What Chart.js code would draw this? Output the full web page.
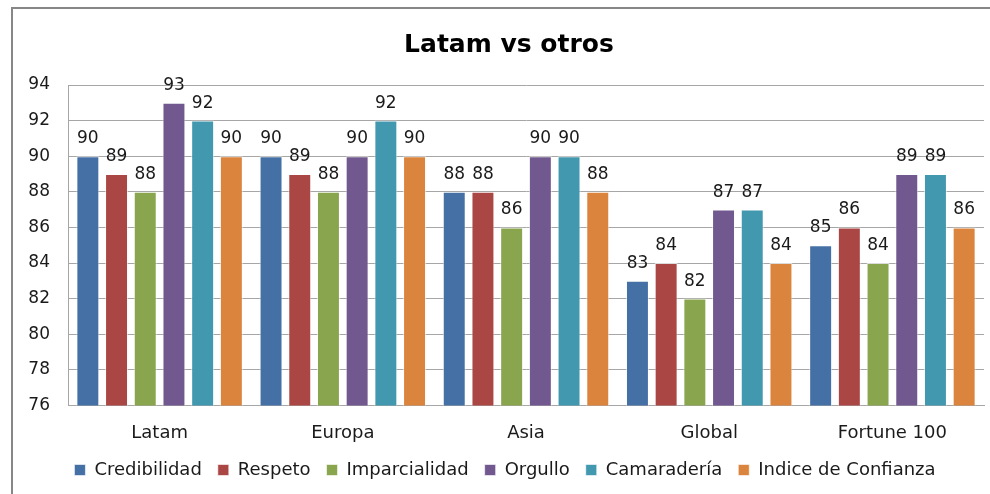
<!DOCTYPE html>
<html>
<head>
<meta charset="utf-8">
<script src="https://cdn.jsdelivr.net/npm/chart.js@4"></script>
<style>
  html, body { margin: 0; padding: 0; overflow: hidden; background: #fff; }
  #frame {
    position: absolute; left: 11px; top: 7px;
    width: 1000px; height: 500px;
    border: 2px solid #878787;
  }
  #box { position: absolute; left: 13px; top: 0; width: 983px; height: 480px; }
</style>
</head>
<body>
<div id="frame"><div id="box"><canvas id="chart"></canvas></div></div>
<script>
// categorias y series
const categories = ["Latam", "Europa", "Asia", "Global", "Fortune 100"];
const seriesNames = ["Credibilidad", "Respeto", "Imparcialidad", "Orgullo", "Camaradería", "Indice de Confianza"];
const credibilidad = [90, 90, 88, 83, 85];
const respeto = [89, 89, 88, 84, 86];
const imparcialidad = [88, 88, 86, 82, 84];
const orgullo = [93, 90, 90, 87, 89];
const camaraderia = [92, 92, 90, 87, 89];
const indiceConfianza = [90, 90, 88, 84, 86];
const yTicks = [76, 78, 80, 82, 84, 86, 88, 90, 92, 94];
const chartTitle = 'Latam vs otros';

const colors = ['#4470A5', '#AA4643', '#89A54E', '#71588F', '#4198AF', '#DB843D'];
const FONT = '"DejaVu Sans", sans-serif';

// etiquetas encima de cada barra + titulo
const valueLabels = {
    id: 'valueLabels',
    afterDatasetsDraw(chart) {
        const ctx = chart.ctx;
        ctx.save();
        ctx.font = '17px ' + FONT;
        ctx.fillStyle = '#1a1a1a';
        ctx.textAlign = 'center';
        ctx.textBaseline = 'alphabetic';
        chart.data.datasets.forEach((ds, i) => {
            chart.getDatasetMeta(i).data.forEach((bar, j) => {
                ctx.fillText(ds.data[j], bar.x, bar.y - 13);
            });
        });
        // titulo centrado en el marco, no en el canvas
        ctx.font = 'bold 25px ' + FONT;
        ctx.fillStyle = '#000';
        ctx.textBaseline = 'middle';
        ctx.fillText(chartTitle, 483, 36);
        ctx.restore();
    }
};

const allSeries = [credibilidad, respeto, imparcialidad, orgullo, camaraderia, indiceConfianza];

new Chart(document.getElementById('chart'), {
    type: 'bar',
    data: {
        labels: categories,
        datasets: allSeries.map((d, i) => ({
            label: seriesNames[i],
            data: d,
            backgroundColor: colors[i],
            borderColor: 'rgba(255,255,255,0.6)',
            borderWidth: 1,
            categoryPercentage: 0.94,
            barPercentage: 0.8
        }))
    },
    options: {
        responsive: true,
        maintainAspectRatio: false,
        animation: false,
        layout: { padding: { left: 0, right: 25, top: 76, bottom: 0 } },
        plugins: {
            title: { display: false },
            legend: {
                position: 'bottom',
                labels: {
                    color: '#1a1a1a',
                    font: { family: FONT, size: 18 },
                    boxWidth: 11,
                    boxHeight: 11,
                    padding: 16
                }
            },
            tooltip: { enabled: false }
        },
        scales: {
            y: {
                min: 76,
                max: 94,
                afterBuildTicks: (axis) => { axis.ticks = yTicks.map(v => ({ value: v })); },
                afterFit: (axis) => { axis.width = 42; },
                ticks: { color: '#1a1a1a', font: { family: FONT, size: 17 }, padding: 18 },
                grid: { color: '#A6A6A6', drawTicks: false },
                border: { color: '#A6A6A6' }
            },
            x: {
                afterFit: (axis) => { axis.height = axis.height - 8; },
                ticks: { color: '#1a1a1a', font: { family: FONT, size: 18 }, padding: 9 },
                grid: { display: false },
                border: { color: '#A6A6A6' }
            }
        }
    },
    plugins: [valueLabels]
});
</script>
</body>
</html>
